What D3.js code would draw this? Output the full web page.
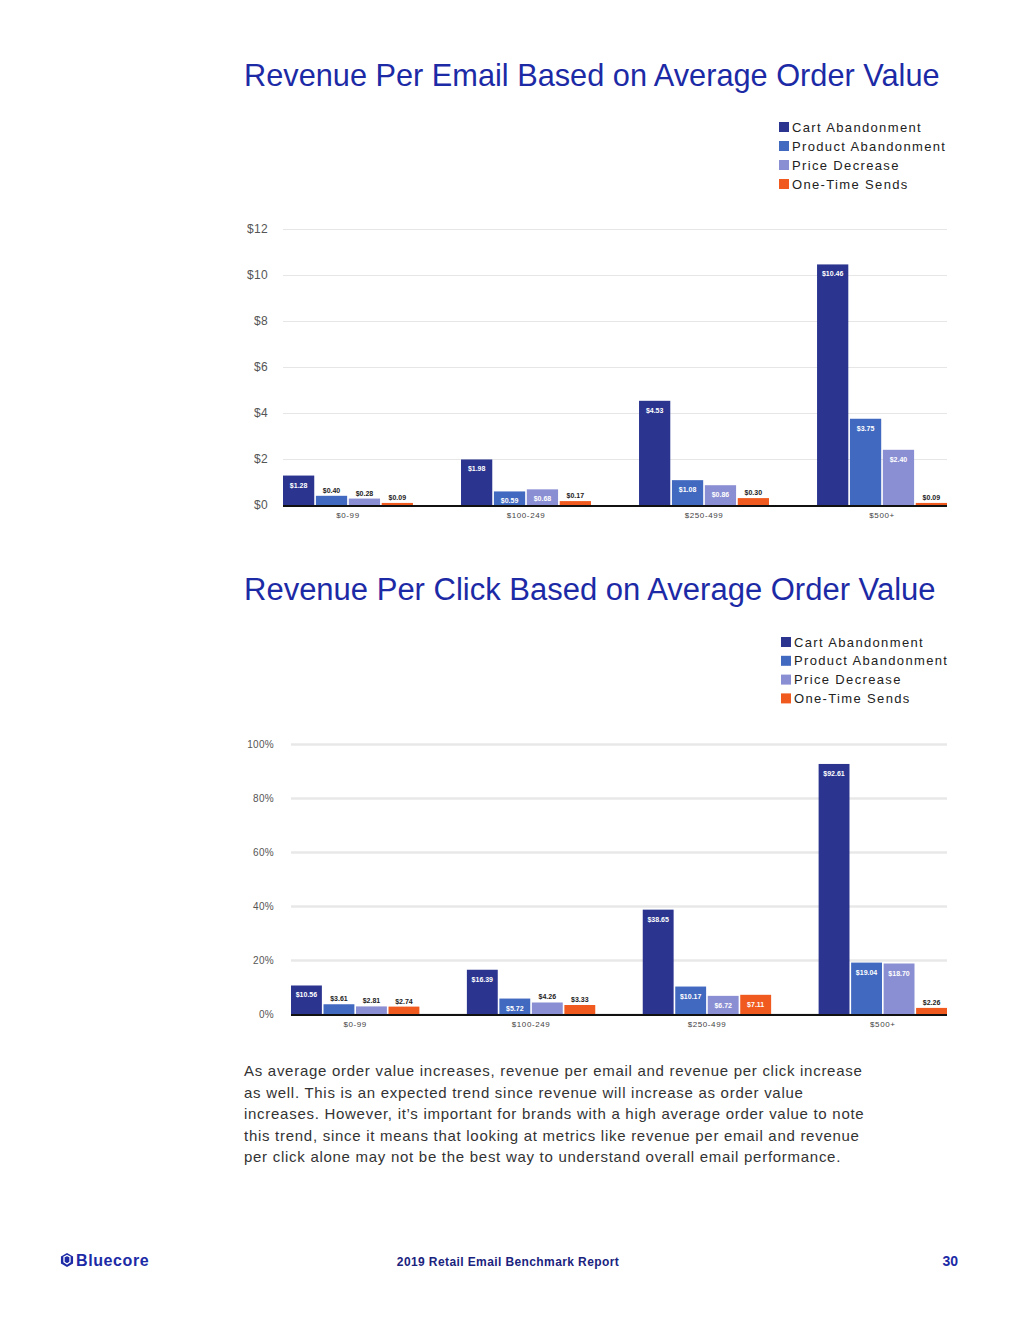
<!DOCTYPE html>
<html><head><meta charset="utf-8">
<script src="https://cdn.jsdelivr.net/npm/d3@7"></script>
<style>
body{margin:0;background:#fff;}
svg{display:block;font-family:"Liberation Sans",Arial,sans-serif;}
</style></head>
<body>
<svg id="c" width="1020" height="1320"></svg>
<script>
const categories = ["$0-99", "$100-249", "$250-499", "$500+"];
const seriesNames = ["Cart Abandonment", "Product Abandonment", "Price Decrease", "One-Time Sends"];
const seriesColors = ["#2b3590", "#4169c0", "#8a8ed2", "#f05a1e"];

const emailCart = [1.28, 1.98, 4.53, 10.46];
const emailProduct = [0.40, 0.59, 1.08, 3.75];
const emailPrice = [0.28, 0.68, 0.86, 2.40];
const emailOneTime = [0.09, 0.17, 0.30, 0.09];
const emailTicks = [0, 2, 4, 6, 8, 10, 12];

const clickCart = [10.56, 16.39, 38.65, 92.61];
const clickProduct = [3.61, 5.72, 10.17, 19.04];
const clickPrice = [2.81, 4.26, 6.72, 18.70];
const clickOneTime = [2.74, 3.33, 7.11, 2.26];
const clickTicks = [0, 20, 40, 60, 80, 100];

const paragraph = [
  "As average order value increases, revenue per email and revenue per click increase",
  "as well. This is an expected trend since revenue will increase as order value",
  "increases. However, it\u2019s important for brands with a high average order value to note",
  "this trend, since it means that looking at metrics like revenue per email and revenue",
  "per click alone may not be the best way to understand overall email performance."
];

const svg = d3.select("#c");
const titleColor = "#1c2aa6";

function fitText(sel, target) {
  const w = sel.node().getComputedTextLength();
  const fs = parseFloat(sel.attr("font-size"));
  sel.attr("font-size", fs * target / w);
}

function chart(opts) {
  const g = svg.append("g");
  const t = g.append("text").attr("x", 244).attr("y", opts.titleY)
    .attr("font-size", 30).attr("fill", titleColor).text(opts.title);
  fitText(t, opts.titleW);

  const lg = g.append("g");
  seriesNames.forEach((s, i) => {
    const y = opts.legendY + i * opts.legendStep;
    lg.append("rect").attr("x", opts.legendX).attr("y", y - 5).attr("width", 10).attr("height", 10).attr("fill", seriesColors[i]);
    lg.append("text").attr("x", opts.legendX + 13).attr("y", y + 4.5).attr("font-size", 13)
      .attr("letter-spacing", 1.35).attr("fill", "#222").text(s);
  });

  const x = d3.scaleBand().domain(categories).range(opts.xRange).paddingInner(0.27).paddingOuter(0);
  const xs = d3.scaleBand().domain(seriesNames).range([0, x.bandwidth()]).paddingInner(0.05);
  const y = d3.scaleLinear().domain(opts.yDomain).range(opts.yRange);

  const ax = g.append("g").attr("transform", `translate(${opts.xRange[0]},0)`)
    .call(d3.axisLeft(y).tickValues(opts.ticks).tickFormat(opts.tickFmt)
      .tickSize(-(opts.xRange[1] - opts.xRange[0])).tickPadding(opts.tickPad));
  ax.select(".domain").remove();
  ax.selectAll(".tick line").attr("stroke", opts.gridColor).attr("stroke-width", opts.gridW);
  ax.selectAll(".tick text").attr("font-size", opts.tickFs).attr("fill", "#555")
    .attr("font-family", "\"Liberation Sans\",Arial,sans-serif").attr("letter-spacing", 0.3);

  const data = [];
  categories.forEach((c, ci) => {
    opts.values.forEach((arr, si) => data.push({c, s: seriesNames[si], si, v: arr[ci]}));
  });

  g.selectAll("rect.bar").data(data).join("rect").attr("class", "bar")
    .attr("x", d => x(d.c) + xs(d.s)).attr("width", xs.bandwidth())
    .attr("y", d => y(d.v)).attr("height", d => y(0) - y(d.v))
    .attr("fill", d => seriesColors[d.si]);

  g.selectAll("text.lbl").data(data).join("text").attr("class", "lbl")
    .attr("x", d => x(d.c) + xs(d.s) + xs.bandwidth() / 2)
    .attr("y", d => (y(0) - y(d.v)) >= 12.5 ? y(d.v) + 12 : y(d.v) - 3)
    .attr("text-anchor", "middle").attr("font-size", 7).attr("font-weight", "bold")
    .attr("fill", d => (y(0) - y(d.v)) >= 12.5 ? "#fff" : "#222")
    .text(d => "$" + d.v.toFixed(2));

  g.append("line").attr("x1", opts.xRange[0]).attr("x2", opts.xRange[1])
    .attr("y1", y(0) + 1).attr("y2", y(0) + 1).attr("stroke", "#111").attr("stroke-width", 2);

  g.selectAll("text.cat").data(categories).join("text").attr("class", "cat")
    .attr("x", d => x(d) + x.bandwidth() / 2).attr("y", y(0) + 13)
    .attr("text-anchor", "middle").attr("font-size", 8).attr("fill", "#444")
    .attr("letter-spacing", 0.6).text(d => d);
}

chart({
  title: "Revenue Per Email Based on Average Order Value", titleY: 86, titleW: 696,
  legendX: 779, legendY: 127, legendStep: 19,
  xRange: [283, 947], yDomain: [0, 12], yRange: [505, 229],
  ticks: emailTicks, tickFmt: d => "$" + d, tickPad: 15, tickFs: 12,
  gridColor: "#e6e6e6", gridW: 1,
  values: [emailCart, emailProduct, emailPrice, emailOneTime]
});

chart({
  title: "Revenue Per Click Based on Average Order Value", titleY: 600, titleW: 692,
  legendX: 781, legendY: 642, legendStep: 18.8,
  xRange: [291, 947], yDomain: [0, 100], yRange: [1014, 744],
  ticks: clickTicks, tickFmt: d => d + "%", tickPad: 17, tickFs: 10,
  gridColor: "#e8e8e8", gridW: 2.5,
  values: [clickCart, clickProduct, clickPrice, clickOneTime]
});

const p = svg.append("g");
paragraph.forEach((line, i) => {
  p.append("text").attr("x", 244).attr("y", 1076 + i * 21.5)
    .attr("font-size", 15).attr("fill", "#333").attr("letter-spacing", 0.72).text(line);
});

const f = svg.append("g");
const hx = 67, hy = 1260, hr = 7;
const hex = d3.range(6).map(i => {
  const a = Math.PI / 3 * i - Math.PI / 2;
  return [hx + hr * Math.cos(a), hy + hr * Math.sin(a)];
});
f.append("path").attr("d", "M" + hex.join("L") + "Z").attr("fill", titleColor);
f.append("path").attr("d", `M${hx-3},${hy-3}L${hx},${hy-4.5}L${hx+3},${hy-3}L${hx+3},${hy+2}L${hx},${hy+4}L${hx-3},${hy+2}Z`)
  .attr("fill", "none").attr("stroke", "#fff").attr("stroke-width", 1.3);
f.append("text").attr("x", 76).attr("y", 1266).attr("font-size", 16).attr("font-weight", 900)
  .attr("fill", titleColor).attr("letter-spacing", 0.6).text("Bluecore");
f.append("text").attr("x", 508).attr("y", 1265.5).attr("text-anchor", "middle").attr("font-size", 12)
  .attr("font-weight", 600).attr("fill", "#1a237e").attr("letter-spacing", 0.4).text("2019 Retail Email Benchmark Report");
f.append("text").attr("x", 958).attr("y", 1266).attr("text-anchor", "end").attr("font-size", 14)
  .attr("font-weight", "bold").attr("fill", titleColor).text("30");
</script>
</body></html>
